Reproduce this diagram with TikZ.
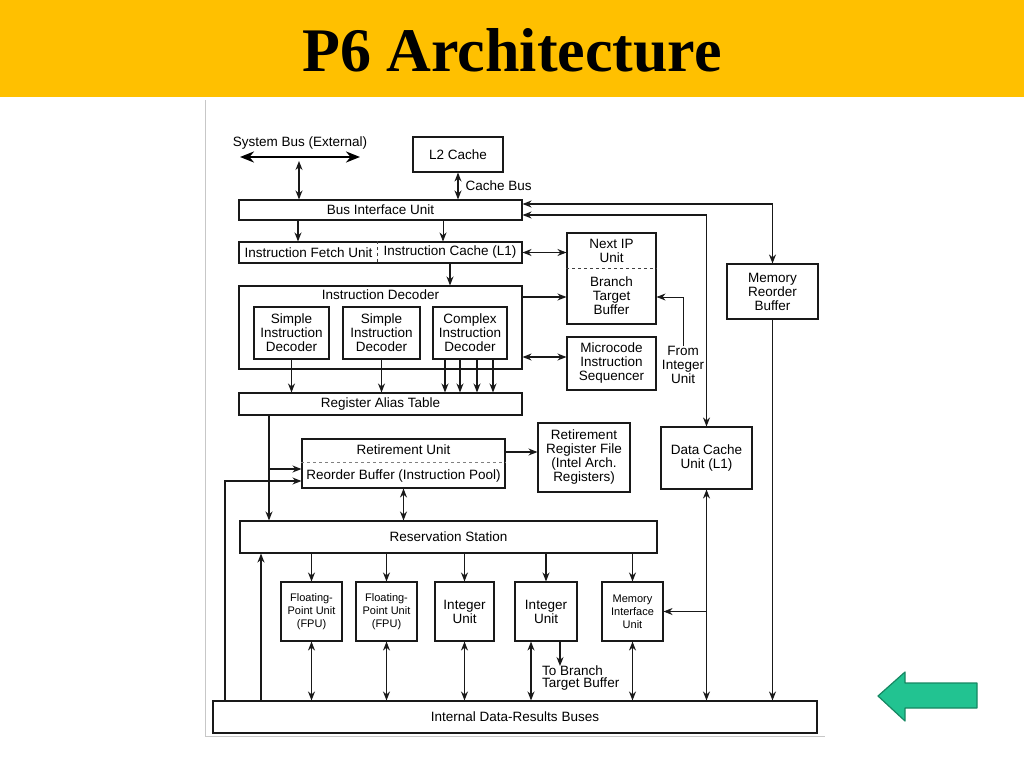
\documentclass[tikz,border=0pt]{standalone}
\usepackage{fontspec}
\setmainfont{Liberation Serif}
\setsansfont{Liberation Sans}
\usetikzlibrary{arrows.meta,positioning}

\definecolor{titlebar}{RGB}{255,192,0}
\definecolor{backfill}{RGB}{34,195,145}
\definecolor{backline}{RGB}{22,135,98}
\newcommand\unitfont{\sffamily\fontsize{13.5}{14}\selectfont}
\newcommand\smallunitfont{\sffamily\fontsize{11}{13}\selectfont}

\begin{document}
\begin{tikzpicture}[x=1pt, y=-1pt,
  box/.style={draw=black!90, line width=1.1pt, inner sep=1pt, align=center, font=\unitfont},
  lbl/.style={inner sep=0pt, align=center, font=\unitfont},
  arr/.style={-{Stealth[length=9pt,width=7pt]}, line width=1.2pt, draw=black!90},
  darr/.style={{Stealth[length=9pt,width=7pt]}-{Stealth[length=9pt,width=7pt]}, line width=1.2pt, draw=black!90},
  split/.style={dashed, line width=1pt, draw=black!75}]
  \useasboundingbox (0,0) rectangle (1024,768);
  \fill[titlebar] (0,0) rectangle (1024,97);
  \node[font=\bfseries\fontsize{62}{70}\selectfont] (title) at (512,50) {P6 Architecture};
  \draw[black!22, line width=1pt] (205,100) -- (205,736) -- (825,736);

  % front end
  \node[lbl] (sysbus) at (300,143) {System Bus (External)};
  \node[box, minimum width=90pt, minimum height=35pt] (l2) at (458,154.5) {L2 Cache};
  \node[box, minimum width=283pt, minimum height=20pt] (biu) at (380.5,210) {Bus Interface Unit};
  \node[box, minimum width=283pt, minimum height=21pt] (fetch) at (380.5,252.5) {};
  \node[lbl] (ifu) at (308.5,252.5) {Instruction Fetch Unit};
  \node[lbl] (icache) at (450,252.5) {Instruction Cache (L1)};
  \node[box, minimum width=89pt, minimum height=91pt] (nip) at (611.5,278.5) {};
  \node[lbl] (nextip) at ([yshift=28pt]nip.center) {Next IP\\Unit};
  \node[lbl] (btb) at ([yshift=-17.5pt]nip.center) {Branch\\Target\\Buffer};
  \node[box, minimum width=283pt, minimum height=83pt] (dec) at (380.5,327.5) {};
  \node[lbl] (declbl) at ([yshift=-9.5pt]dec.north) {Instruction Decoder};
  \node[box, minimum width=75pt, minimum height=52pt] (sid1) at (291.5,333) {Simple\\Instruction\\Decoder};
  \node[box, minimum width=77pt, minimum height=52pt] (sid2) at (381.5,333) {Simple\\Instruction\\Decoder};
  \node[box, minimum width=74pt, minimum height=52pt] (cid) at (470,333) {Complex\\Instruction\\Decoder};
  \node[box, minimum width=89pt, minimum height=53pt] (mis) at (611.5,363.5) {Microcode\\Instruction\\Sequencer};
  \node[lbl] (fromint) at (683,365) {From\\Integer\\Unit};
  \node[box, minimum width=91pt, minimum height=55pt] (mrb) at (772.5,291.5) {Memory\\Reorder\\Buffer};
  \node[box, minimum width=283pt, minimum height=22pt] (rat) at (380.5,404) {Register Alias Table};

  % out of order core
  \node[box, minimum width=203pt, minimum height=49pt] (rob) at (403.5,463.5) {};
  \node[lbl] (retu) at ([yshift=13.5pt]rob.center) {Retirement Unit};
  \node[lbl] (robl) at ([yshift=-12.5pt]rob.center) {Reorder Buffer (Instruction Pool)};
  \node[box, minimum width=92pt, minimum height=69pt] (rrf) at (584,457.5) {Retirement\\Register File\\(Intel Arch.\\Registers)};
  \node[box, minimum width=91pt, minimum height=62pt] (dcu) at (706.5,458) {Data Cache\\Unit (L1)};
  \node[box, minimum width=417pt, minimum height=32pt] (rs) at (448.5,537) {Reservation Station};
  \node[box, minimum width=61pt, minimum height=59pt, font=\smallunitfont] (fpu1) at (311.5,611.5) {Floating-\\Point Unit\\(FPU)};
  \node[box, minimum width=61pt, minimum height=59pt, font=\smallunitfont] (fpu2) at (386.5,611.5) {Floating-\\Point Unit\\(FPU)};
  \node[box, minimum width=59pt, minimum height=59pt] (int1) at (464.5,611.5) {Integer\\Unit};
  \node[box, minimum width=62pt, minimum height=59pt] (int2) at (546,611.5) {Integer\\Unit};
  \node[box, minimum width=61pt, minimum height=59pt, font=\smallunitfont] (miu) at (632.5,611.5) {Memory\\Interface\\Unit};
  \node[lbl, align=left, anchor=north west, font=\sffamily\fontsize{13.5}{11.5}\selectfont] (tobtb) at (542,666) {To Branch\\Target Buffer};
  \node[box, minimum width=604pt, minimum height=32pt] (bus) at (515,717) {Internal Data-Results Buses};

  % connectors
  \coordinate (sbl) at (240,157);
  \coordinate (sbr) at (360,157);
  \coordinate (sbm) at (299,161);
  \draw[line width=2.8pt, {Stealth[length=14pt,width=11pt]}-{Stealth[length=14pt,width=11pt]}] (sbl) -- (sbr);
  \draw[darr] (sbm) -- (sbm |- biu.north);
  \draw[darr] (l2.south) -- (l2.south |- biu.north) node[lbl, midway, right=7pt] (cachebus) {Cache Bus};
  \draw[arr] ([xshift=-82.5pt]biu.south) -- ([xshift=-82.5pt]fetch.north);
  \draw[arr, line width=0.8pt] ([xshift=62.5pt]biu.south) -- ([xshift=62.5pt]fetch.north);
  \draw[split] ([xshift=-3.5pt]fetch.north) -- ([xshift=-3.5pt]fetch.south);
  \draw[arr] (icache |- fetch.south) -- (icache |- dec.north);
  \draw[darr] (fetch.east) -- (fetch.east -| nip.west);
  \draw[split] ([yshift=10.5pt]nip.west) -- ([yshift=10.5pt]nip.east);
  \coordinate (decbtb) at ([yshift=30.5pt]dec.east);
  \coordinate (decmis) at ([yshift=-29.5pt]dec.east);
  \draw[arr] (decbtb) -- (decbtb -| nip.west);
  \draw[darr] (decmis) -- (decmis -| mis.west);
  \coordinate (btbin) at ([yshift=-18.5pt]nip.east);
  \draw[arr, line width=0.8pt] (fromint.north) |- (btbin);
  \draw[arr] (sid1.south) -- (sid1.south |- rat.north);
  \draw[arr] (sid2.south) -- (sid2.south |- rat.north);
  \foreach \dx in {-25,-10,7,23}
    \draw[arr] ([xshift=\dx pt]cid.south) -- ([xshift=\dx pt]cid.south |- rat.north);
  \draw[darr] ([yshift=6pt]biu.east) -| (mrb.north);
  \draw[darr] ([yshift=-5pt]biu.east) -| (dcu.north);

  \coordinate (ratline) at ([xshift=-111.5pt]rat.south);
  \coordinate (robin1) at ([yshift=-5.5pt]rob.west);
  \coordinate (robin2) at ([yshift=-17.5pt]rob.west);
  \coordinate (busfb) at ([xshift=-290pt]bus.north);
  \coordinate (busrs) at ([xshift=-254pt]bus.north);
  \draw[arr] (ratline) -- (ratline |- rs.north);
  \draw[arr] (ratline |- robin1) -- (robin1);
  \draw[arr] (busfb) |- (robin2);
  \draw[arr] (busrs) -- (busrs |- rs.south);
  \draw[split, draw=black!50] ([yshift=1.5pt]rob.west) -- ([yshift=1.5pt]rob.east);
  \coordinate (robrrf) at ([yshift=11.5pt]rob.east);
  \draw[arr] (robrrf) -- (robrrf -| rrf.west);
  \draw[darr] (rob.south) -- (rob.south |- rs.north);

  \foreach \u in {fpu1,fpu2,int1,int2,miu}
    \draw[arr] (rs.south -| \u.north) -- (\u.north);
  \foreach \u in {fpu1,fpu2,int1,miu}
    \draw[darr] (\u.south) -- (\u.south |- bus.north);
  \coordinate (int2bus) at ([xshift=-15pt]int2.south);
  \draw[darr] (int2bus) -- (int2bus |- bus.north);
  \draw[arr] ([xshift=14pt]int2.south) -- ([xshift=14pt]int2.south |- tobtb.north);
  \draw[arr] (mrb.south) -- (mrb.south |- bus.north);
  \draw[darr] (dcu.south) -- (dcu.south |- bus.north);
  \draw[arr, line width=0.8pt] (dcu.south |- miu.east) -- (miu.east);

  % back button
  \filldraw[fill=backfill, draw=backline, line width=1.2pt, line join=round]
    (977,683) -- (905,683) -- (905,672) -- (878,696) -- (905,721) -- (905,708) -- (977,708) -- cycle;
\end{tikzpicture}
\end{document}
